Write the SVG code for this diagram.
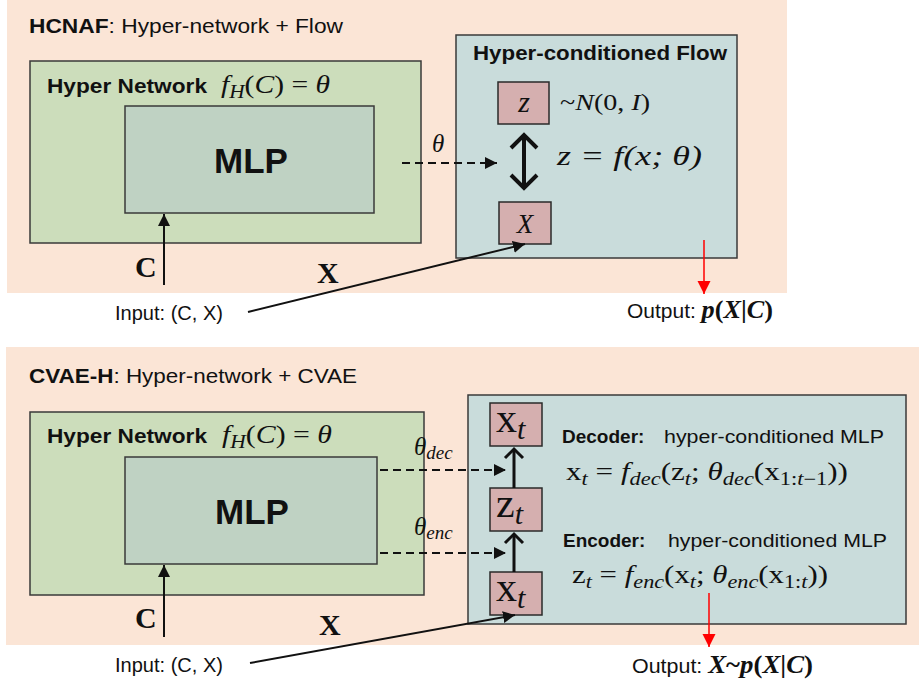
<svg xmlns="http://www.w3.org/2000/svg" width="919" height="682" viewBox="0 0 919 682">
  <defs>
    <style>
      .panel { fill: #FBE5D6; }
      .hyper { fill: #CCDDBB; stroke: #3A3A3A; stroke-width: 1.5; }
      .mlp { fill: #BFD2C3; stroke: #3A3A3A; stroke-width: 1.5; }
      .flow { fill: #C9DCDB; stroke: #3A3A3A; stroke-width: 1.5; }
      .var { fill: #D5AFAF; stroke: #2A2A2A; stroke-width: 1.5; }
      .sans { font-family: "Liberation Sans", Arial, sans-serif; fill: #111; }
      .b { font-weight: bold; }
      .math { font-family: "Liberation Serif", "Times New Roman", serif; fill: #111; }
      .it { font-style: italic; }
      .solid { stroke: #111; stroke-width: 2; fill: none; }
      .dash { stroke: #111; stroke-width: 2; fill: none; stroke-dasharray: 8 5; }
      .thick { stroke: #111; stroke-width: 4; fill: none; }
      .mid { stroke: #111; stroke-width: 3; fill: none; }
      .red { stroke: #FF0000; stroke-width: 1.5; fill: none; }
    </style>
    <marker id="tri" viewBox="0 0 10 10" refX="10" refY="5" markerWidth="6" markerHeight="6" markerUnits="strokeWidth" orient="auto">
      <path d="M0,0 L10,5 L0,10 z" fill="#111"/>
    </marker>
    <marker id="triRed" viewBox="0 0 10 10" refX="10" refY="5" markerWidth="9" markerHeight="9" markerUnits="strokeWidth" orient="auto">
      <path d="M0,0 L10,5 L0,10 z" fill="#FF0000"/>
    </marker>
  </defs>

  <rect width="919" height="682" fill="#FFFFFF"/>

  <!-- ===== Top panel: HCNAF ===== -->
  <rect class="panel" x="7" y="0" width="780" height="293"/>
  <text class="sans" x="29" y="33" font-size="21" textLength="314" lengthAdjust="spacingAndGlyphs"><tspan class="b">HCNAF</tspan>: Hyper-network + Flow</text>

  <g id="hyper-network-top">
    <rect class="hyper" x="30" y="61" width="391" height="182"/>
    <text class="sans b" x="47" y="93" font-size="21" textLength="160" lengthAdjust="spacingAndGlyphs">Hyper Network</text>
    <text class="math" x="221" y="93" font-size="25" textLength="109" lengthAdjust="spacingAndGlyphs"><tspan class="it">f</tspan><tspan class="it" font-size="18" dy="5">H</tspan><tspan dy="-5">(</tspan><tspan class="it">C</tspan>) = <tspan class="it">θ</tspan></text>
  </g>

  <g id="mlp-top">
    <rect class="mlp" x="125" y="106" width="249" height="107"/>
    <text class="sans b" x="251" y="173" font-size="35" text-anchor="middle">MLP</text>
  </g>

  <g id="flow-box">
    <rect class="flow" x="456" y="35" width="281" height="223"/>
    <text class="sans b" x="473" y="60" font-size="20" textLength="254" lengthAdjust="spacingAndGlyphs">Hyper-conditioned Flow</text>
  </g>

  <g id="z-node">
    <rect class="var" x="498" y="82" width="51" height="42"/>
    <text class="math it" x="524" y="112" font-size="30" text-anchor="middle">z</text>
    <text class="math" x="560" y="110" font-size="24" textLength="90" lengthAdjust="spacingAndGlyphs">~<tspan class="it">N</tspan>(0, <tspan class="it">I</tspan>)</text>
  </g>

  <g id="x-node">
    <rect class="var" x="499" y="202" width="52" height="42"/>
    <text class="math it" x="525" y="233" font-size="27" text-anchor="middle">X</text>
  </g>

  <text class="math it" x="557" y="165" font-size="27" textLength="145" lengthAdjust="spacingAndGlyphs">z = f(x; θ)</text>

  <!-- ===== Bottom panel: CVAE-H ===== -->
  <rect class="panel" x="6" y="347" width="913" height="298"/>
  <text class="sans" x="29" y="383" font-size="21" textLength="328" lengthAdjust="spacingAndGlyphs"><tspan class="b">CVAE-H</tspan>: Hyper-network + CVAE</text>

  <g id="hyper-network-bottom">
    <rect class="hyper" x="30" y="412" width="394" height="183"/>
    <text class="sans b" x="47" y="443" font-size="21" textLength="160" lengthAdjust="spacingAndGlyphs">Hyper Network</text>
    <text class="math" x="222" y="443" font-size="25" textLength="110" lengthAdjust="spacingAndGlyphs"><tspan class="it">f</tspan><tspan class="it" font-size="18" dy="5">H</tspan><tspan dy="-5">(</tspan><tspan class="it">C</tspan>) = <tspan class="it">θ</tspan></text>
  </g>

  <g id="mlp-bottom">
    <rect class="mlp" x="125" y="457" width="252" height="107"/>
    <text class="sans b" x="252" y="524" font-size="35" text-anchor="middle">MLP</text>
  </g>

  <g id="cvae-box">
    <rect class="flow" x="468" y="395" width="438" height="229"/>
    <text class="sans" x="562" y="443" font-size="19"><tspan class="b">Decoder:</tspan></text>
    <text class="sans" x="664" y="443" font-size="19" textLength="220" lengthAdjust="spacingAndGlyphs">hyper-conditioned MLP</text>
    <text class="math" x="566" y="480" font-size="25" textLength="282" lengthAdjust="spacingAndGlyphs">x<tspan class="it" font-size="18" dy="5">t</tspan><tspan dy="-5"> = </tspan><tspan class="it">f</tspan><tspan class="it" font-size="18" dy="5">dec</tspan><tspan dy="-5">(z</tspan><tspan class="it" font-size="18" dy="5">t</tspan><tspan dy="-5">; </tspan><tspan class="it">θ</tspan><tspan class="it" font-size="18" dy="5">dec</tspan><tspan dy="-5">(x</tspan><tspan font-size="18" dy="5">1:</tspan><tspan class="it" font-size="18">t</tspan><tspan font-size="18">−1</tspan><tspan dy="-5">))</tspan></text>
    <text class="sans" x="563" y="547" font-size="19"><tspan class="b">Encoder:</tspan></text>
    <text class="sans" x="668" y="547" font-size="19" textLength="219" lengthAdjust="spacingAndGlyphs">hyper-conditioned MLP</text>
    <text class="math" x="572" y="583" font-size="25" textLength="256" lengthAdjust="spacingAndGlyphs">z<tspan class="it" font-size="18" dy="5">t</tspan><tspan dy="-5"> = </tspan><tspan class="it">f</tspan><tspan class="it" font-size="18" dy="5">enc</tspan><tspan dy="-5">(x</tspan><tspan class="it" font-size="18" dy="5">t</tspan><tspan dy="-5">; </tspan><tspan class="it">θ</tspan><tspan class="it" font-size="18" dy="5">enc</tspan><tspan dy="-5">(x</tspan><tspan font-size="18" dy="5">1:</tspan><tspan class="it" font-size="18">t</tspan><tspan dy="-5">))</tspan></text>
  </g>

  <g id="xt-out">
    <rect class="var" x="490" y="403" width="52" height="43"/>
    <text class="math" x="496" y="432" font-size="42">x<tspan class="it" font-size="30" dy="7">t</tspan></text>
  </g>
  <g id="zt">
    <rect class="var" x="490" y="488" width="52" height="43"/>
    <text class="math" x="496" y="517" font-size="42">z<tspan class="it" font-size="30" dy="7">t</tspan></text>
  </g>
  <g id="xt-in">
    <rect class="var" x="490" y="572" width="52" height="43"/>
    <text class="math" x="496" y="601" font-size="42">x<tspan class="it" font-size="30" dy="7">t</tspan></text>
  </g>

  <!-- Free labels -->
  <g id="labels">
    <text class="math b" x="135" y="277" font-size="30">C</text>
    <text class="math b" x="317" y="283" font-size="30">X</text>
    <text class="sans" x="115" y="320" font-size="20" textLength="108" lengthAdjust="spacingAndGlyphs">Input: (C, X)</text>
    <text class="math it" x="432" y="152" font-size="25">θ</text>
    <text class="sans" x="627" y="318" font-size="20" textLength="146" lengthAdjust="spacingAndGlyphs">Output: <tspan class="math b" font-size="25"><tspan class="it">p</tspan>(<tspan class="it">X</tspan>|<tspan class="it">C</tspan>)</tspan></text>

    <text class="math b" x="135" y="628" font-size="30">C</text>
    <text class="math b" x="319" y="635" font-size="30">X</text>
    <text class="sans" x="115" y="672" font-size="20" textLength="108" lengthAdjust="spacingAndGlyphs">Input: (C, X)</text>
    <text class="math" x="414" y="455" font-size="25"><tspan class="it">θ</tspan><tspan class="it" font-size="19" dy="4">dec</tspan></text>
    <text class="math" x="414" y="535" font-size="25"><tspan class="it">θ</tspan><tspan class="it" font-size="19" dy="4">enc</tspan></text>
    <text class="sans" x="632" y="673" font-size="20" textLength="181" lengthAdjust="spacingAndGlyphs">Output: <tspan class="math b" font-size="25"><tspan class="it">X</tspan>~<tspan class="it">p</tspan>(<tspan class="it">X</tspan>|<tspan class="it">C</tspan>)</tspan></text>
  </g>

  <!-- Connectors -->
  <g id="connectors">
    <!-- top panel -->
    <line class="solid" x1="164" y1="285" x2="164" y2="214" marker-end="url(#tri)"/>
    <line class="solid" x1="248" y1="312" x2="525" y2="244" marker-end="url(#tri)"/>
    <line class="dash" x1="402" y1="163" x2="497" y2="163" marker-end="url(#tri)"/>
    <line class="thick" x1="524" y1="137" x2="524" y2="186"/>
    <polyline class="thick" points="511,148 524,135 537,148"/>
    <polyline class="thick" points="511,175 524,188 537,175"/>
    <line class="red" x1="704" y1="240" x2="704" y2="294" marker-end="url(#triRed)"/>

    <!-- bottom panel -->
    <line class="solid" x1="164" y1="637" x2="164" y2="565" marker-end="url(#tri)"/>
    <line class="solid" x1="250" y1="663" x2="515" y2="615" marker-end="url(#tri)"/>
    <line class="dash" x1="380" y1="470" x2="506" y2="470" marker-end="url(#tri)"/>
    <line class="dash" x1="380" y1="553" x2="506" y2="553" marker-end="url(#tri)"/>
    <line class="mid" x1="514" y1="488" x2="514" y2="450"/>
    <polyline class="mid" points="505,458 514,449 523,458"/>
    <line class="mid" x1="514" y1="572" x2="514" y2="535"/>
    <polyline class="mid" points="505,543 514,534 523,543"/>
    <line class="red" x1="709" y1="593" x2="709" y2="647" marker-end="url(#triRed)"/>
  </g>
</svg>
